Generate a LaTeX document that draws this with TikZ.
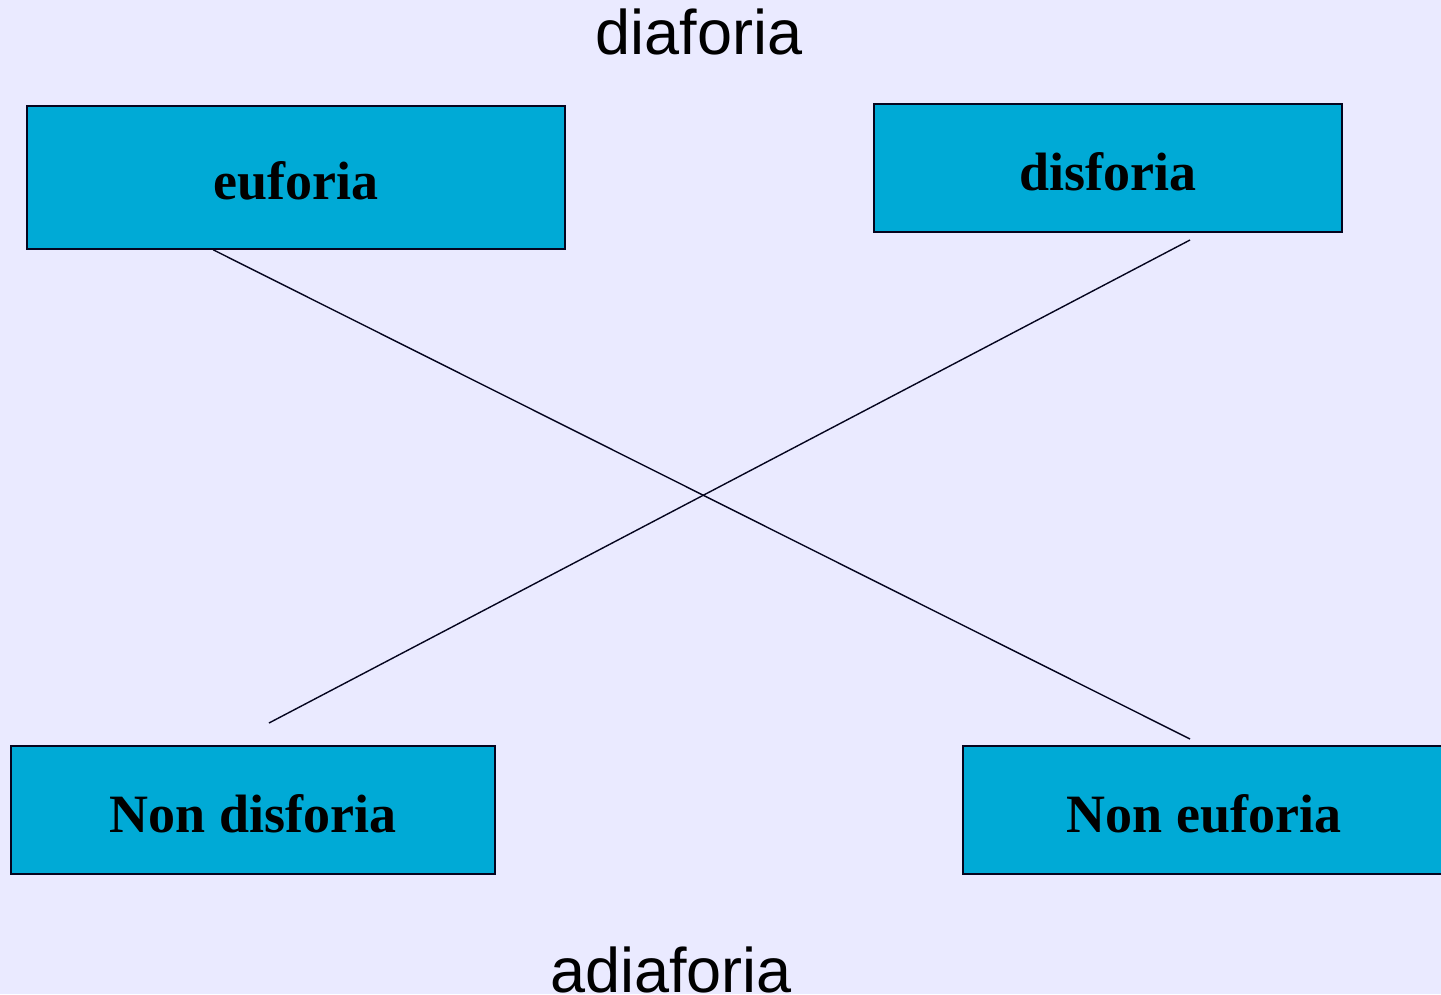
\documentclass[tikz,border=0pt]{standalone}
\usepackage{fontspec}
\setmainfont{Liberation Serif}
\newfontfamily\arialfont{Liberation Sans}
\definecolor{bg}{RGB}{234,234,255}
\definecolor{boxfill}{RGB}{0,170,214}
\definecolor{edge}{RGB}{5,5,30}
\begin{document}
\begin{tikzpicture}[x=1pt,y=-1pt,
  termbox/.style={draw=edge, line width=1.6pt, fill=boxfill, rectangle, inner sep=0pt,
    text height=44pt, text depth=0pt, font=\fontsize{54}{60}\selectfont\bfseries},
  title/.style={inner sep=0pt, anchor=base, font=\arialfont\fontsize{63}{70}\selectfont},
  link/.style={draw=edge, line width=1.4pt}]
\useasboundingbox (0,0) rectangle (1441,994);
\fill[bg] (0,0) rectangle (1441,994);
\node[title] (dia) at (699,54) {diaforia};
\node[title] (adia) at (671,992) {adiaforia};
\node[termbox, minimum width=538pt, minimum height=143pt] (euf) at (296,177.5) {euforia};
\node[termbox, minimum width=468pt, minimum height=128pt] (dis) at (1108,168) {disforia};
\node[termbox, minimum width=484pt, minimum height=128pt] (ndis) at (253,810) {Non disforia};
\node[termbox, minimum width=482pt, minimum height=128pt] (neuf) at (1204,810) {Non euforia};
\coordinate (eend) at (1190,739);
\coordinate (dstart) at (1190,240);
\coordinate (dend) at (269,723);
\draw[link] ([xshift=187pt]euf.south west) -- (eend);
\draw[link] (dstart) -- (dend);
\end{tikzpicture}
\end{document}
